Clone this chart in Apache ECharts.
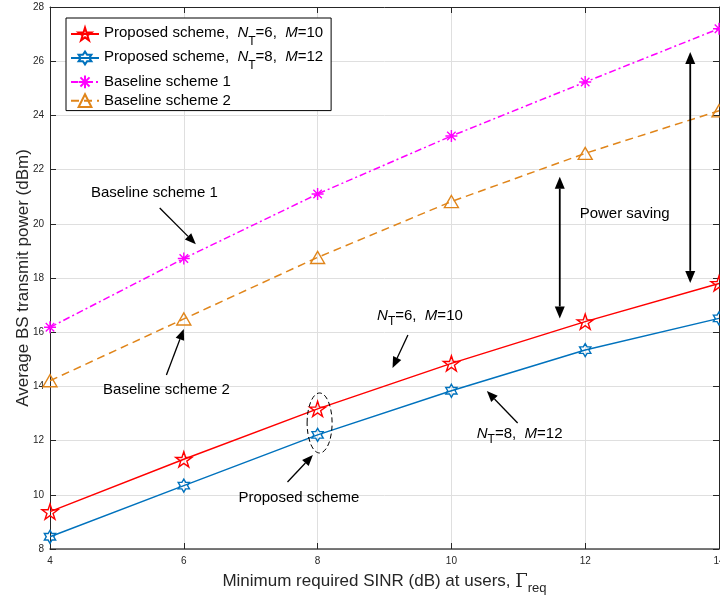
<!DOCTYPE html>
<html><head><meta charset="utf-8">
<script src="https://cdn.jsdelivr.net/npm/echarts@6/dist/echarts.min.js"></script>
<style>html,body{margin:0;padding:0;background:#fff}#main{width:720px;height:601px}</style>
</head><body><div id="main"></div>
<script>
// ---- data ----
const sinrDb = [4, 6, 8, 10, 12, 14];
const proposedNT6 = [9.38, 11.31, 13.17, 14.85, 16.39, 17.80];
const proposedNT8 = [8.45, 10.34, 12.21, 13.84, 15.34, 16.51];
const baseline1 = [16.18, 18.72, 21.10, 23.24, 25.23, 27.20];
const baseline2 = [14.21, 16.49, 18.76, 20.82, 22.60, 24.17];
const seriesNames = ['Proposed scheme, NT=6, M=10', 'Proposed scheme, NT=8, M=12', 'Baseline scheme 1', 'Baseline scheme 2'];
const xRange = [4, 14], xStep = 2;
const yRange = [8, 28], yStep = 2;

const FF = '"Liberation Sans", Arial, Helvetica, sans-serif';
const PENTA = 'path://M0,-1 L0.2245,-0.309 L0.9511,-0.309 L0.3633,0.118 L0.5878,0.809 L0,0.382 L-0.5878,0.809 L-0.3633,0.118 L-0.9511,-0.309 L-0.2245,-0.309 Z';
const HEXA = 'path://M0,-1 L0.2887,-0.5 L0.866,-0.5 L0.5774,0 L0.866,0.5 L0.2887,0.5 L0,1 L-0.2887,0.5 L-0.866,0.5 L-0.5774,0 L-0.866,-0.5 L-0.2887,-0.5 Z';
const ASTER = 'path://M0,-1 L0,1 M-1,0 L1,0 M-0.707,-0.707 L0.707,0.707 M-0.707,0.707 L0.707,-0.707';
const TRI = 'path://M0,-1 L0.866,0.5 L-0.866,0.5 Z';

const pairs = ys => sinrDb.map((x, i) => [x, ys[i]]);

function lineSeries(name, ys, color, dash, symbol, size, z) {
  return {
    name, type: 'line', data: pairs(ys), z,
    symbol, symbolSize: size, symbolKeepAspect: true,
    lineStyle: { color, width: 1.5, type: dash },
    itemStyle: { color: 'none', borderColor: color, borderWidth: 1.4 },
    emphasis: { disabled: true }, animation: false
  };
}

const subRich = {
  t: { fontSize: 15, lineHeight: 18, verticalAlign: 'top', color: '#000', fontFamily: FF },
  i: { fontSize: 15, lineHeight: 18, verticalAlign: 'top', color: '#000', fontFamily: FF, fontStyle: 'italic' },
  s: { fontSize: 12, lineHeight: 14, verticalAlign: 'top', color: '#000', fontFamily: FF, padding: [8, 0, 0, 0] }
};
const legendRich = {
  t: subRich.t, i: subRich.i,
  b: { fontSize: 15, lineHeight: 15, verticalAlign: 'top', color: '#000', fontFamily: FF },
  s: { fontSize: 12, lineHeight: 14, verticalAlign: 'top', color: '#000', fontFamily: FF, padding: [11, 0, 0, 0] }
};

const axisCommon = {
  axisLine: { show: true, onZero: false, lineStyle: { color: '#262626', width: 1 } },
  axisTick: { show: true, inside: true, length: 6, lineStyle: { color: '#262626', width: 1 } },
};

const option = {
  backgroundColor: '#fff',
  animation: false,
  grid: { left: 50, right: 1, top: 7, bottom: 52, containLabel: false, outerBoundsMode: 'none' },
  xAxis: [{
    type: 'value', min: xRange[0], max: xRange[1], interval: xStep, position: 'bottom',
    ...axisCommon,
    axisLine: { show: true, onZero: false, lineStyle: { color: '#4d4d4d', width: 1.5 } },
    axisLabel: { fontSize: 10, color: '#262626', margin: 7, fontFamily: FF },
    splitLine: { show: true, lineStyle: { color: '#dfdfdf', width: 1 } },
    name: '{a|Minimum required SINR (dB) at users, }{g|Γ}{s|req}',
    nameLocation: 'middle', nameGap: 24, nameMoveOverlap: false,
    nameTextStyle: {
      rich: {
        a: { fontSize: 17, lineHeight: 18, verticalAlign: 'top', color: '#262626', fontFamily: FF },
        g: { fontSize: 18, lineHeight: 18, verticalAlign: 'top', color: '#262626', fontFamily: '"DejaVu Serif", "Liberation Serif", serif' },
        s: { fontSize: 13, lineHeight: 14, verticalAlign: 'top', color: '#262626', fontFamily: FF, padding: [9, 0, 0, 0] }
      }
    }
  }, {
    type: 'value', min: xRange[0], max: xRange[1], interval: xStep, position: 'top',
    ...axisCommon, axisLabel: { show: false }, splitLine: { show: false }
  }],
  yAxis: [{
    type: 'value', min: yRange[0], max: yRange[1], interval: yStep, position: 'left',
    ...axisCommon,
    axisLabel: { fontSize: 10, color: '#262626', margin: 6, fontFamily: FF },
    splitLine: { show: true, lineStyle: { color: '#dfdfdf', width: 1 } },
    name: 'Average BS transmit power (dBm)', nameLocation: 'middle', nameGap: 18, nameRotate: 90, nameMoveOverlap: false,
    nameTextStyle: { fontSize: 17, color: '#262626', fontFamily: FF }
  }, {
    type: 'value', min: yRange[0], max: yRange[1], interval: yStep, position: 'right',
    ...axisCommon, axisLabel: { show: false }, splitLine: { show: false }
  }],
  legend: {
    orient: 'vertical', left: 66, top: 18,
    padding: [7, 8, 1, 4], itemGap: 1, itemWidth: 28, itemHeight: 16,
    backgroundColor: '#fff', borderColor: '#000', borderWidth: 1, borderRadius: 0,
    data: seriesNames,
    textStyle: { fontSize: 15, color: '#000', fontFamily: FF, rich: legendRich },
    formatter: function (name) {
      if (name === seriesNames[0]) return '{t|Proposed scheme,  }{i|N}{s|T}{t|=6,  }{i|M}{t|=10}';
      if (name === seriesNames[1]) return '{t|Proposed scheme,  }{i|N}{s|T}{t|=8,  }{i|M}{t|=12}';
      return '{b|' + name + '}';
    }
  },
  series: [
    lineSeries(seriesNames[0], proposedNT6, '#ff0000', 'solid', PENTA, 16, 5),
    lineSeries(seriesNames[1], proposedNT8, '#0072bd', 'solid', HEXA, 13, 4),
    lineSeries(seriesNames[2], baseline1, '#ff00ff', [7, 3, 2, 3], ASTER, 12, 3),
    lineSeries(seriesNames[3], baseline2, '#e0851a', [8, 5], TRI, 14, 2)
  ]
};

const chart = echarts.init(document.getElementById('main'), null, { renderer: 'canvas' });
chart.setOption(option);

// ---- annotations (positioned in data coordinates) ----
const annoTexts = [
  { at: [5.56, 21.10], text: '{t|Baseline scheme 1}' },
  { at: [5.74, 13.83], text: '{t|Baseline scheme 2}' },
  { at: [12.59, 20.32], text: '{t|Power saving}' },
  { at: [9.53, 16.56], text: '{i|N}{s|T}{t|=6,  }{i|M}{t|=10}' },
  { at: [11.02, 12.21], text: '{i|N}{s|T}{t|=8,  }{i|M}{t|=12}' },
  { at: [7.72, 9.85], text: '{t|Proposed scheme}' }
];
const annoArrows = [
  { from: [5.64, 20.58], to: [6.18, 19.25] },
  { from: [5.74, 14.42], to: [6.00, 16.12] },
  { from: [9.35, 15.90], to: [9.12, 14.68] },
  { from: [10.99, 12.65], to: [10.53, 13.83] },
  { from: [7.55, 10.47], to: [7.93, 11.47] }
];
const annoDouble = [
  { from: [11.62, 21.74], to: [11.62, 16.51] },
  { from: [13.57, 26.34], to: [13.57, 17.82] }
];
const annoEllipse = { at: [8.03, 12.65], rx: 12.5, ry: 30 };

const P = v => chart.convertToPixel({ xAxisIndex: 0, yAxisIndex: 0 }, v);
const gfx = [];
const gRich = {};
for (const k in subRich) {
  const r = subRich[k];
  gRich[k] = { fontSize: r.fontSize, lineHeight: r.lineHeight, verticalAlign: r.verticalAlign, fill: '#000', fontFamily: FF, fontStyle: r.fontStyle || 'normal', padding: r.padding };
}
annoTexts.forEach(a => {
  const p = P(a.at);
  gfx.push({ type: 'text', z: 10, x: p[0], y: p[1], style: { text: a.text, rich: gRich, align: 'center', verticalAlign: 'middle', fill: '#000', fontSize: 15, fontFamily: FF } });
});
function head(tip, from, L, W) {
  const dx = tip[0] - from[0], dy = tip[1] - from[1];
  const len = Math.hypot(dx, dy);
  const ux = dx / len, uy = dy / len;
  const bx = tip[0] - ux * L, by = tip[1] - uy * L;
  return { base: [bx, by], pts: [tip, [bx - uy * W, by + ux * W], [bx + uy * W, by - ux * W]] };
}
function arrow(a, b, both, L, W, lw) {
  const h2 = head(b, a, L, W);
  let start = a;
  if (both) {
    const h1 = head(a, b, L, W);
    start = h1.base;
    gfx.push({ type: 'polygon', z: 10, shape: { points: h1.pts }, style: { fill: '#000' } });
  }
  gfx.push({ type: 'line', z: 10, shape: { x1: start[0], y1: start[1], x2: h2.base[0], y2: h2.base[1] }, style: { stroke: '#000', lineWidth: lw } });
  gfx.push({ type: 'polygon', z: 10, shape: { points: h2.pts }, style: { fill: '#000' } });
}
annoArrows.forEach(a => arrow(P(a.from), P(a.to), false, 11, 4.5, 1.3));
annoDouble.forEach(a => arrow(P(a.from), P(a.to), true, 12, 5, 1.8));
const ec = P(annoEllipse.at);
gfx.push({ type: 'ellipse', z: 10, shape: { cx: ec[0], cy: ec[1], rx: annoEllipse.rx, ry: annoEllipse.ry }, style: { fill: 'none', stroke: '#000', lineWidth: 1, lineDash: [5, 3] } });

chart.setOption({ graphic: gfx });
</script>
</body></html>
